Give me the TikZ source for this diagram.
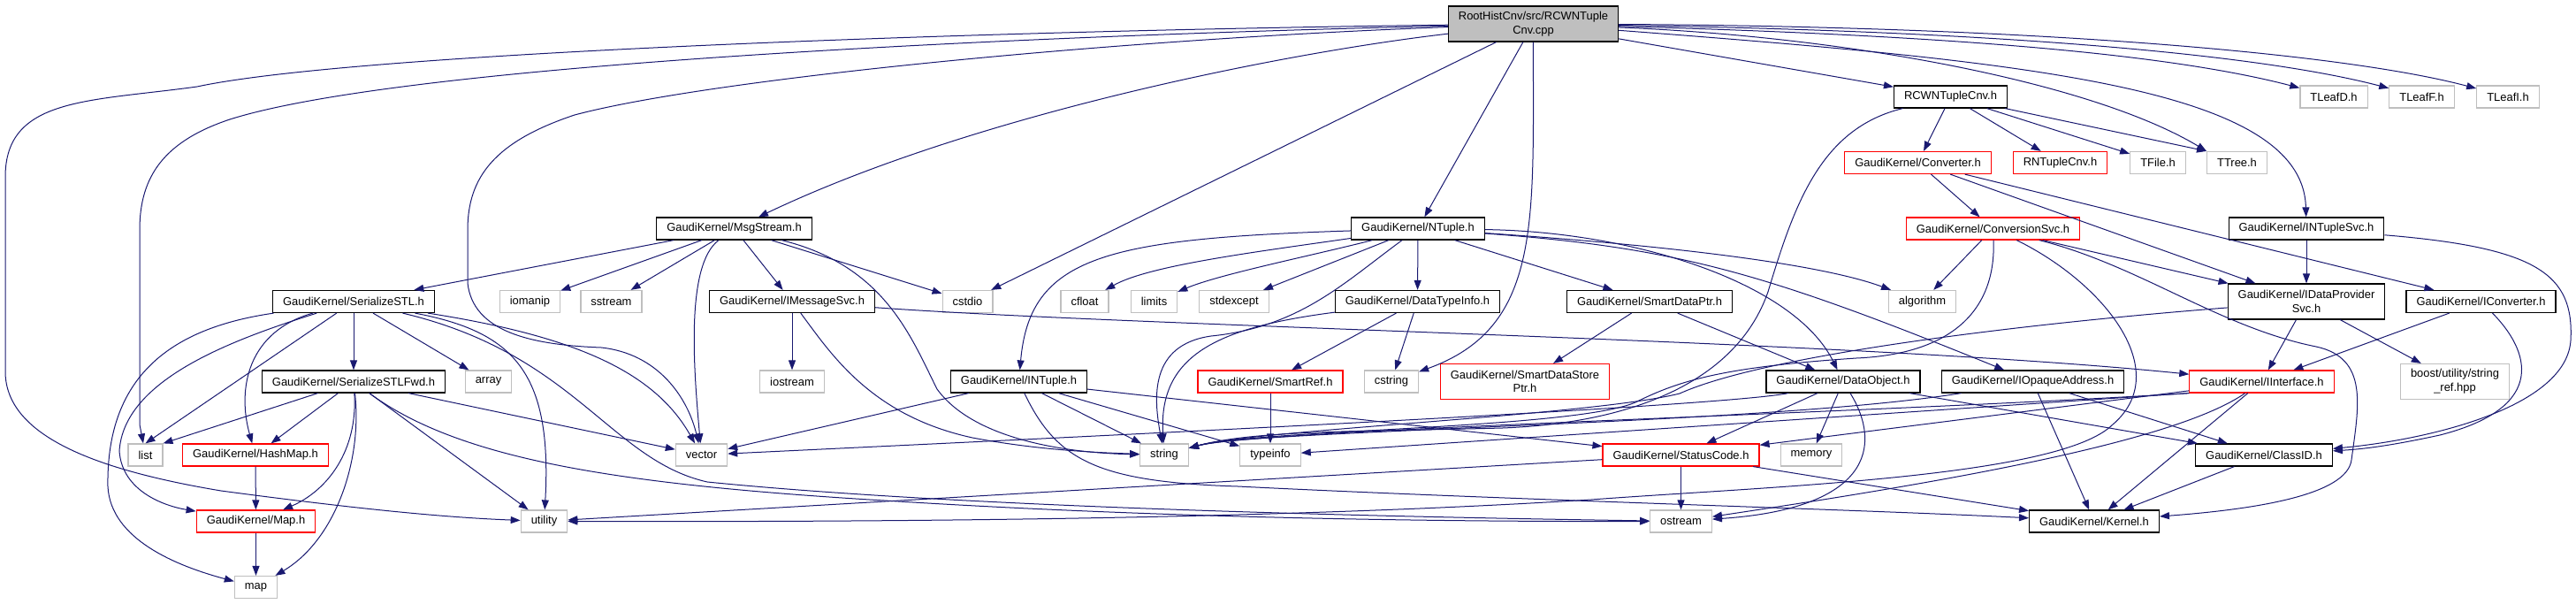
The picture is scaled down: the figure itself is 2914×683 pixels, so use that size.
\documentclass[tikz,border=0pt]{standalone}
\usepackage{fontspec}
\setmainfont{Liberation Sans}
\usetikzlibrary{arrows.meta}
\definecolor{edgeblue}{RGB}{25,25,112}
\definecolor{sysgray}{RGB}{191,191,191}

\begin{document}
\begin{tikzpicture}[x=0.5pt,y=-0.5pt,
	font=\fontsize{6.47}{7.85}\selectfont,
	hdr/.style={draw=black, line width=0.6pt, inner xsep=5.75pt, inner ysep=0pt, minimum height=12.5pt, align=center},
	syshdr/.style={hdr, draw=sysgray},
	redhdr/.style={hdr, draw=red},
	srchdr/.style={hdr, fill=sysgray},
	twoline/.style={minimum height=20pt},
	dep/.style={draw=edgeblue, line width=0.5pt, -{Triangle[length=5.5pt,width=4pt]}}]
	\useasboundingbox (0,0) rectangle (2914,683);

	% Source file
	\node[srchdr, twoline] (root) at (1734.5,27) {RootHistCnv/src/RCWNTuple\\Cnv.cpp};

	% Row 1
	\node[hdr]    (rcwnh)  at (2206.5,109.5) {RCWNTupleCnv.h};
	\node[syshdr] (tleafd) at (2640,109.5)   {TLeafD.h};
	\node[syshdr] (tleaff) at (2739.5,109.5) {TLeafF.h};
	\node[syshdr] (tleafi) at (2837,109.5)   {TLeafI.h};

	% Row 2
	\node[redhdr] (converter)  at (2169.5,184) {GaudiKernel/Converter.h};
	\node[redhdr] (rntuplecnv) at (2330.5,184) {RNTupleCnv.h};
	\node[syshdr] (tfile)      at (2441,184)   {TFile.h};
	\node[syshdr] (ttree)      at (2530.5,184) {TTree.h};

	% Row 3
	\node[hdr]    (msgstream)  at (830.5,258.5)  {GaudiKernel/MsgStream.h};
	\node[hdr]    (ntuple)     at (1604,258.5)   {GaudiKernel/NTuple.h};
	\node[redhdr] (convsvc)    at (2254.5,258.5) {GaudiKernel/ConversionSvc.h};
	\node[hdr]    (intuplesvc) at (2609,258.5)   {GaudiKernel/INTupleSvc.h};

	% Row 4
	\node[hdr]    (serstl)       at (400,341)    {GaudiKernel/SerializeSTL.h};
	\node[syshdr] (iomanip)      at (599.5,341)  {iomanip};
	\node[syshdr] (sstream)      at (691.5,341)  {sstream};
	\node[hdr]    (imsgsvc)      at (896,341)    {GaudiKernel/IMessageSvc.h};
	\node[syshdr] (cstdio)       at (1094.5,341) {cstdio};
	\node[syshdr] (cfloat)       at (1227,341)   {cfloat};
	\node[syshdr] (limits)       at (1305.5,341) {limits};
	\node[syshdr] (stdexcept)    at (1396,341)   {stdexcept};
	\node[hdr]    (datatypeinfo) at (1603.5,341) {GaudiKernel/DataTypeInfo.h};
	\node[hdr]    (smartdataptr) at (1866,341)   {GaudiKernel/SmartDataPtr.h};
	\node[syshdr] (algorithm)    at (2174.5,341) {algorithm};
	\node[hdr, twoline] (idpsvc) at (2609,341)   {GaudiKernel/IDataProvider\\Svc.h};
	\node[hdr]    (iconverter)   at (2806.5,341) {GaudiKernel/IConverter.h};

	% Row 5
	\node[hdr]    (serstlfwd)  at (400,431.5)    {GaudiKernel/SerializeSTLFwd.h};
	\node[syshdr] (array)      at (552.5,431.5)  {array};
	\node[syshdr] (iostream)   at (896,431.5)    {iostream};
	\node[hdr]    (intuple)    at (1152.5,431.5) {GaudiKernel/INTuple.h};
	\node[redhdr] (smartref)   at (1437,431.5)   {GaudiKernel/SmartRef.h};
	\node[syshdr] (cstring)    at (1574,431.5)   {cstring};
	\node[redhdr, twoline] (smartstoreptr) at (1725,431.5) {GaudiKernel/SmartDataStore\\Ptr.h};
	\node[hdr]    (dataobject) at (2085,431.5)   {GaudiKernel/DataObject.h};
	\node[hdr]    (iopaque)    at (2299.5,431.5) {GaudiKernel/IOpaqueAddress.h};
	\node[redhdr] (iinterface) at (2558.5,431.5) {GaudiKernel/IInterface.h};
	\node[syshdr, twoline] (boostref) at (2777,431.5) {boost/utility/string\\\_ref.hpp};

	% Row 6
	\node[syshdr] (list)       at (164.5,514.5)  {list};
	\node[redhdr] (hashmap)    at (289,514.5)    {GaudiKernel/HashMap.h};
	\node[syshdr] (vector)     at (793.5,514.5)  {vector};
	\node[syshdr] (string)     at (1317,514.5)   {string};
	\node[syshdr] (typeinfo)   at (1437,514.5)   {typeinfo};
	\node[redhdr] (statuscode) at (1901.5,514.5) {GaudiKernel/StatusCode.h};
	\node[syshdr] (memory)     at (2049,514.5)   {memory};
	\node[hdr]    (classid)    at (2561,514.5)   {GaudiKernel/ClassID.h};

	% Row 7
	\node[redhdr] (maph)    at (289.5,589.5)  {GaudiKernel/Map.h};
	\node[syshdr] (utility) at (615.5,589.5)  {utility};
	\node[syshdr] (ostream) at (1901.5,589.5) {ostream};
	\node[hdr]    (kernel)  at (2369,589.5)   {GaudiKernel/Kernel.h};

	% Row 8
	\node[syshdr] (map) at (289.5,664) {map};

	% Includes of the source file
	\draw[dep] (root) .. controls (1100,35) and (400,60) .. (223,98) .. controls (100,115) and (6,110) .. (6,200) -- (6,420) .. controls (6,490) and (100,530) .. (250,555) .. controls (400,575) and (500,585) .. (utility);
	\draw[dep] (root) .. controls (1100,42) and (450,75) .. (260,135) .. controls (185,160) and (158,200) .. (158,260) -- (158,480) -- (list);
	\draw[dep] (root) .. controls (1250,45) and (800,90) .. (650,130) .. controls (560,160) and (529,200) .. (529,260) -- (529,320) .. controls (535,375) and (600,390) .. (680,393) .. controls (745,400) and (778,450) .. (vector);
	\draw[dep] (root) .. controls (1450,60) and (1100,130) .. (msgstream);
	\draw[dep] (root) -- (cstdio);
	\draw[dep] (root) -- (ntuple);
	\draw[dep] (root) .. controls (1734,250) and (1745,370) .. (cstring);
	\draw[dep] (root) -- (rcwnh);
	\draw[dep] (root) .. controls (2100,42) and (2370,95) .. (ttree.north west);
	\draw[dep] (root) .. controls (2300,70) and (2605,100) .. (intuplesvc);
	\draw[dep] (root) .. controls (2200,40) and (2450,60) .. (tleafd);
	\draw[dep] (root) .. controls (2250,35) and (2550,60) .. (tleaff);
	\draw[dep] (root) .. controls (2300,30) and (2650,60) .. (tleafi);

	% RCWNTupleCnv.h
	\draw[dep] (rcwnh) -- (converter);
	\draw[dep] (rcwnh) -- (rntuplecnv);
	\draw[dep] (rcwnh) -- (tfile);
	\draw[dep] (rcwnh) -- (ttree.north west);
	\draw[dep] (rcwnh) .. controls (2060,145) and (2030,230) .. (2000,330) .. controls (1965,430) and (1850,478) .. (1700,484) .. controls (1550,488) and (1420,486) .. (string);

	% Converter.h and ConversionSvc.h
	\draw[dep] (converter) -- (convsvc);
	\draw[dep] (converter) -- (idpsvc);
	\draw[dep] (converter) -- (iconverter);
	\draw[dep] (convsvc) -- (algorithm);
	\draw[dep] (convsvc) -- (idpsvc);
	\draw[dep] (convsvc) .. controls (2258,345) and (2215,400) .. (2100,405) .. controls (1950,415) and (1900,430) .. (1850,455) .. controls (1780,485) and (1420,486) .. (string);
	\draw[dep] (convsvc) .. controls (2380,320) and (2460,420) .. (2390,480) .. controls (2330,540) and (2000,550) .. (1800,565) .. controls (1400,590) and (900,590) .. (utility);
	\draw[dep] (convsvc) .. controls (2420,300) and (2510,370) .. (2620,392) .. controls (2680,405) and (2668,460) .. (2660,520) .. controls (2655,560) and (2550,576) .. (kernel);

	% INTupleSvc.h, IConverter.h, IDataProviderSvc.h
	\draw[dep] (intuplesvc) -- (idpsvc);
	\draw[dep] (intuplesvc) .. controls (2870,280) and (2912,310) .. (2908,385) .. controls (2903,460) and (2750,497) .. (classid);
	\draw[dep] (iconverter) -- (iinterface);
	\draw[dep] (iconverter) .. controls (2860,395) and (2885,460) .. (2760,492) .. controls (2700,505) and (2670,508) .. (classid);
	\draw[dep] (idpsvc) -- (iinterface);
	\draw[dep] (idpsvc) -- (boostref);
	\draw[dep] (idpsvc) .. controls (2300,365) and (2000,400) .. (1900,445) .. controls (1800,470) and (1420,486) .. (string);

	% IInterface.h
	\draw[dep] (iinterface) -- (statuscode);
	\draw[dep] (iinterface.south west) .. controls (2100,468) and (1420,486) .. (string);
	\draw[dep] (iinterface.south west) -- (typeinfo);
	\draw[dep] (iinterface) -- (kernel);
	\draw[dep] (iinterface) .. controls (2460,500) and (2200,545) .. (ostream);

	% IOpaqueAddress.h and DataObject.h
	\draw[dep] (iopaque) -- (kernel);
	\draw[dep] (iopaque) -- (classid);
	\draw[dep] (iopaque) .. controls (2000,480) and (1420,486) .. (string);
	\draw[dep] (dataobject) -- (classid);
	\draw[dep] (dataobject) -- (statuscode);
	\draw[dep] (dataobject) -- (memory);
	\draw[dep] (dataobject) .. controls (2130,505) and (2115,575) .. (ostream);
	\draw[dep] (dataobject) .. controls (1950,460) and (1200,495) .. (vector);

	% SmartDataPtr.h, DataTypeInfo.h, SmartRef.h
	\draw[dep] (smartdataptr) -- (smartstoreptr);
	\draw[dep] (smartdataptr) -- (dataobject);
	\draw[dep] (datatypeinfo) -- (smartref);
	\draw[dep] (datatypeinfo) -- (cstring);
	\draw[dep] (datatypeinfo) .. controls (1380,370) and (1310,400) .. (string);
	\draw[dep] (smartref) -- (typeinfo);

	% NTuple.h
	\draw[dep] (ntuple) .. controls (1250,270) and (1165,290) .. (intuple);
	\draw[dep] (ntuple) .. controls (1420,285) and (1300,300) .. (cfloat);
	\draw[dep] (ntuple) .. controls (1480,290) and (1380,310) .. (limits);
	\draw[dep] (ntuple) -- (stdexcept);
	\draw[dep] (ntuple) .. controls (1520,320) and (1470,370) .. (1370,380) .. controls (1300,390) and (1305,450) .. (string);
	\draw[dep] (ntuple) -- (datatypeinfo);
	\draw[dep] (ntuple) -- (smartdataptr);
	\draw[dep] (ntuple) .. controls (1850,275) and (2050,295) .. (algorithm);
	\draw[dep] (ntuple) .. controls (1850,262) and (2030,320) .. (dataobject);
	\draw[dep] (ntuple) .. controls (1900,280) and (2000,310) .. (iopaque);

	% INTuple.h
	\draw[dep] (intuple) -- (vector);
	\draw[dep] (intuple) -- (string);
	\draw[dep] (intuple) -- (typeinfo);
	\draw[dep] (intuple) -- (statuscode);
	\draw[dep] (intuple) .. controls (1195,520) and (1240,545) .. (1400,550) .. controls (1700,565) and (2100,576) .. (kernel);

	% StatusCode.h and ClassID.h
	\draw[dep] (statuscode) -- (ostream);
	\draw[dep] (statuscode) -- (kernel);
	\draw[dep] (statuscode) -- (utility);
	\draw[dep] (classid) -- (kernel);

	% MsgStream.h and IMessageSvc.h
	\draw[dep] (imsgsvc) -- (iostream);
	\draw[dep] (imsgsvc) .. controls (1300,370) and (2100,385) .. (iinterface);
	\draw[dep] (imsgsvc) .. controls (940,400) and (985,470) .. (1100,495) .. controls (1180,510) and (1250,512) .. (string);
	\draw[dep] (msgstream) -- (serstl);
	\draw[dep] (msgstream) -- (iomanip);
	\draw[dep] (msgstream) -- (sstream);
	\draw[dep] (msgstream) .. controls (775,300) and (785,420) .. (vector);
	\draw[dep] (msgstream) -- (imsgsvc);
	\draw[dep] (msgstream) -- (cstdio);
	\draw[dep] (msgstream) .. controls (1000,300) and (1030,380) .. (1060,440) .. controls (1100,495) and (1200,512) .. (string);

	% SerializeSTL.h
	\draw[dep] (serstl) .. controls (200,370) and (120,420) .. (122,550) .. controls (125,610) and (200,640) .. (map);
	\draw[dep] (serstl) .. controls (260,385) and (140,430) .. (135,510) .. controls (138,555) and (185,572) .. (maph);
	\draw[dep] (serstl) .. controls (280,375) and (268,440) .. (hashmap);
	\draw[dep] (serstl) -- (list.north);
	\draw[dep] (serstl) -- (serstlfwd);
	\draw[dep] (serstl) -- (array);
	\draw[dep] (serstl) .. controls (580,375) and (625,420) .. (utility);
	\draw[dep] (serstl) .. controls (650,400) and (690,520) .. (800,545) .. controls (1100,575) and (1600,585) .. (ostream);
	\draw[dep] (serstl) .. controls (650,380) and (740,420) .. (vector);

	% SerializeSTLFwd.h
	\draw[dep] (serstlfwd) -- (list.north east);
	\draw[dep] (serstlfwd) -- (hashmap);
	\draw[dep] (serstlfwd) .. controls (405,510) and (370,555) .. (maph);
	\draw[dep] (serstlfwd) .. controls (410,520) and (380,610) .. (map);
	\draw[dep] (serstlfwd) -- (utility);
	\draw[dep] (serstlfwd) .. controls (520,520) and (700,548) .. (1000,566) .. controls (1300,585) and (1600,590) .. (ostream);
	\draw[dep] (serstlfwd) -- (vector);

	% HashMap.h and Map.h
	\draw[dep] (hashmap) -- (maph);
	\draw[dep] (maph) -- (map);
\end{tikzpicture}
\end{document}
